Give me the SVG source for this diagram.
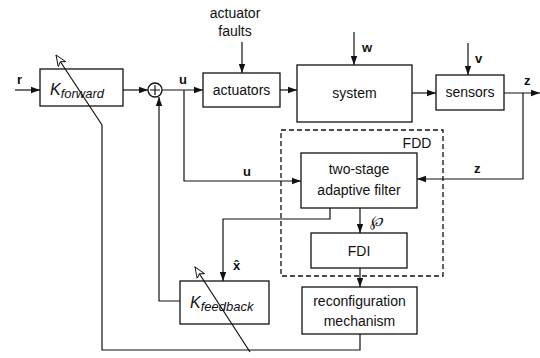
<svg xmlns="http://www.w3.org/2000/svg" width="540" height="358" viewBox="0 0 540 358">
<style>
.b{fill:#fff;stroke:#111;stroke-width:1.3}
.l{fill:none;stroke:#111;stroke-width:1.2}
.t{font-family:"Liberation Sans",Arial,sans-serif;font-size:14px;fill:#111;text-anchor:middle}
.lb{font-family:"Liberation Sans",Arial,sans-serif;font-size:13px;font-weight:bold;fill:#111}
.k{font-family:"Liberation Sans",Arial,sans-serif;font-style:italic;fill:#111}
</style>
<defs>
<marker id="a" markerWidth="10" markerHeight="8" refX="9" refY="4" orient="auto" markerUnits="userSpaceOnUse"><path d="M0,0.8 L9,4 L0,7.2 Z" fill="#111"/></marker>
<marker id="o" markerWidth="12" markerHeight="10" refX="11" refY="5" orient="auto" markerUnits="userSpaceOnUse"><path d="M0,0.5 L11,5 L0,9.5 L3,5 Z" fill="#fff" stroke="#111" stroke-width="0.9"/></marker>
</defs>
<rect x="281" y="130" width="162" height="146" fill="none" stroke="#111" stroke-width="1.3" stroke-dasharray="5,3"/>
<text x="417" y="148" class="t" font-size="15">FDD</text>
<g id="kforward"><rect class="b" x="40" y="69" width="83" height="37"/><text class="k" x="50" y="95" font-size="16">K<tspan font-size="13" dy="3">forward</tspan></text></g>
<g id="sum"><circle class="b" cx="155" cy="90" r="7"/><path class="l" d="M150,90 H160 M155,85 V95"/></g>
<g id="actuators"><rect class="b" x="203" y="73" width="77" height="34"/><text class="t" x="241.5" y="95" font-size="15">actuators</text></g>
<g id="system"><rect class="b" x="297" y="65" width="115" height="57"/><text class="t" x="354.5" y="98" font-size="15">system</text></g>
<g id="sensors"><rect class="b" x="436" y="75" width="68" height="35"/><text class="t" x="470" y="97" font-size="15">sensors</text></g>
<g id="filter"><rect class="b" x="301" y="153" width="116" height="55"/><text class="t" x="359" y="174" font-size="15">two-stage</text><text class="t" x="359" y="195" font-size="15">adaptive filter</text></g>
<g id="fdi"><rect class="b" x="311" y="233" width="96" height="35"/><text class="t" x="359" y="256" font-size="15">FDI</text></g>
<g id="reconf"><rect class="b" x="302" y="287" width="115" height="47"/><text class="t" x="359.5" y="306" font-size="15">reconfiguration</text><text class="t" x="359.5" y="326" font-size="15">mechanism</text></g>
<g id="kfeedback"><rect class="b" x="180" y="281" width="89" height="43"/><text class="k" x="190" y="308" font-size="16">K<tspan font-size="13" dy="3">feedback</tspan></text></g>
<g id="connectors">
<path class="l" d="M15,90 H40" marker-end="url(#a)"/>
<path class="l" d="M123,90 H148" marker-end="url(#a)"/>
<path class="l" d="M162,90 H203" marker-end="url(#a)"/>
<path class="l" d="M280,90 H297" marker-end="url(#a)"/>
<path class="l" d="M412,93 H436" marker-end="url(#a)"/>
<path class="l" d="M504,93 H540" marker-end="url(#a)"/>
<path class="l" d="M242,42 V73" marker-end="url(#a)"/>
<path class="l" d="M354,32 V65" marker-end="url(#a)"/>
<path class="l" d="M468,43 V75" marker-end="url(#a)"/>
<path class="l" d="M184,90 V181 H301" marker-end="url(#a)"/>
<path class="l" d="M523,93 V179 H417" marker-end="url(#a)"/>
<path class="l" d="M330,208 V219 H223 V281" marker-end="url(#a)"/>
<path class="l" d="M360,208 V233" marker-end="url(#a)"/>
<path class="l" d="M360,268 V287" marker-end="url(#a)"/>
<path class="l" d="M180,301 H159 V97" marker-end="url(#a)"/>
<path class="l" d="M360,334 V350 H102 V125"/>
<path class="l" d="M102,125 L56,55" marker-end="url(#o)"/>
<path class="l" d="M250,352 L195,267" marker-end="url(#o)"/>
</g>
<g id="labels">
<text class="t" x="235" y="18" font-size="15">actuator</text>
<text class="t" x="235" y="36" font-size="15">faults</text>
<text class="lb" x="17" y="84">r</text>
<text class="lb" x="179" y="84">u</text>
<text class="lb" x="243" y="176">u</text>
<text class="lb" x="362" y="52">w</text>
<text class="lb" x="475" y="63">v</text>
<text class="lb" x="524" y="85">z</text>
<text class="lb" x="474" y="173">z</text>
<text class="lb" x="233" y="270">x̂</text>
<text class="k" x="370" y="226" font-size="15">℘</text>
</g>
</svg>
